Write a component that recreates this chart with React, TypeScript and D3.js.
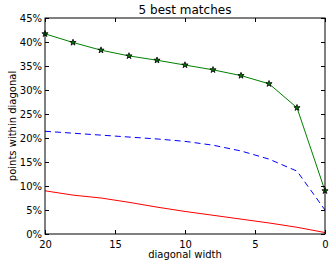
import * as d3 from 'd3';
import React, { useEffect, useRef } from "react";

// diagonal widths, plotted from 20 down to 0
const widths = [20, 18, 16, 14, 12, 10, 8, 6, 4, 2, 0];
// percentage of points within diagonal
const greenValues = [41.7, 39.9, 38.3, 37.1, 36.2, 35.2, 34.2, 33.0, 31.3, 26.3, 9.0];
const blueValues = [21.4, 21.0, 20.6, 20.2, 19.8, 19.3, 18.5, 17.3, 15.6, 13.1, 5.0];
const redValues = [9.0, 8.1, 7.5, 6.6, 5.6, 4.7, 3.9, 3.1, 2.3, 1.4, 0.3];
const xTicks = [20, 15, 10, 5, 0];
const yTicks = [0, 5, 10, 15, 20, 25, 30, 35, 40, 45];

const svgWidth = 333;
const svgHeight = 268;
const margin = { top: 18, right: 8, bottom: 34, left: 45 };
const width = svgWidth - margin.left - margin.right;
const height = svgHeight - margin.top - margin.bottom;
const font = "'DejaVu Sans', sans-serif";

export default function App() {
  const chartRef = useRef(null);

  useEffect(() => {
    const svgElem = d3.select(chartRef.current);
    svgElem.selectAll('*').remove();

    const xScale = d3.scaleLinear().domain([20, 0]).range([0, width]);
    const yScale = d3.scaleLinear().domain([0, 45]).range([height, 0]);

    const g = svgElem.append("g").attr("transform", `translate(${margin.left},${margin.top})`);

    const line = (vals) => d3.line()
      .x((d, i) => xScale(widths[i]))
      .y((d) => yScale(d))(vals);

    g.append("path").attr("d", line(redValues))
      .attr("fill", "none").attr("stroke", "#ff0000").attr("stroke-width", 1);

    g.append("path").attr("d", line(blueValues))
      .attr("fill", "none").attr("stroke", "#0000ff").attr("stroke-width", 1)
      .attr("stroke-dasharray", "6,4");

    g.append("path").attr("d", line(greenValues))
      .attr("fill", "none").attr("stroke", "#008000").attr("stroke-width", 1);

    const star = d3.symbol().type(d3.symbolStar).size(12);
    g.selectAll(".star").data(greenValues).enter().append("path")
      .attr("class", "star")
      .attr("transform", (d, i) => `translate(${xScale(widths[i])},${yScale(d)})`)
      .attr("d", star)
      .attr("fill", "#008000")
      .attr("stroke", "#000")
      .attr("stroke-width", 0.8);

    // frame
    g.append("rect").attr("x", 0).attr("y", 0).attr("width", width).attr("height", height)
      .attr("fill", "none").attr("stroke", "#000").attr("stroke-width", 1);

    // inward ticks, all four sides
    const tickLen = 4;
    const fmtPct = (d) => d + "%";
    g.append("g").attr("transform", `translate(0,${height})`)
      .call(d3.axisBottom(xScale).tickValues(xTicks).tickSize(-tickLen).tickPadding(7))
      .call(a => a.select(".domain").remove());
    g.append("g")
      .call(d3.axisTop(xScale).tickValues(xTicks).tickSize(-tickLen).tickFormat(() => ""))
      .call(a => a.select(".domain").remove());
    g.append("g")
      .call(d3.axisLeft(yScale).tickValues(yTicks).tickSize(-tickLen).tickPadding(3).tickFormat(fmtPct))
      .call(a => a.select(".domain").remove());
    g.append("g").attr("transform", `translate(${width},0)`)
      .call(d3.axisRight(yScale).tickValues(yTicks).tickSize(-tickLen).tickFormat(() => ""))
      .call(a => a.select(".domain").remove());

    g.selectAll(".tick text").attr("font-family", font).attr("font-size", 10).attr("fill", "#000");
    g.selectAll(".tick line").attr("stroke", "#000");

    svgElem.append("text")
      .attr("x", margin.left + width / 2)
      .attr("y", 14)
      .attr("text-anchor", "middle")
      .attr("font-family", font)
      .attr("font-size", 12)
      .text("5 best matches");

    svgElem.append("text")
      .attr("x", margin.left + width / 2)
      .attr("y", 258)
      .attr("text-anchor", "middle")
      .attr("font-family", font)
      .attr("font-size", 10)
      .text("diagonal width");

    svgElem.append("text")
      .attr("transform", "rotate(-90)")
      .attr("x", -(margin.top + height / 2))
      .attr("y", 16)
      .attr("text-anchor", "middle")
      .attr("font-family", font)
      .attr("font-size", 10)
      .text("points within diagonal");
  }, []);

  return (
    <svg ref={chartRef} width={svgWidth} height={svgHeight}
      style={{ position: 'absolute', left: 0, top: 0, background: '#fff' }} />
  );
}
